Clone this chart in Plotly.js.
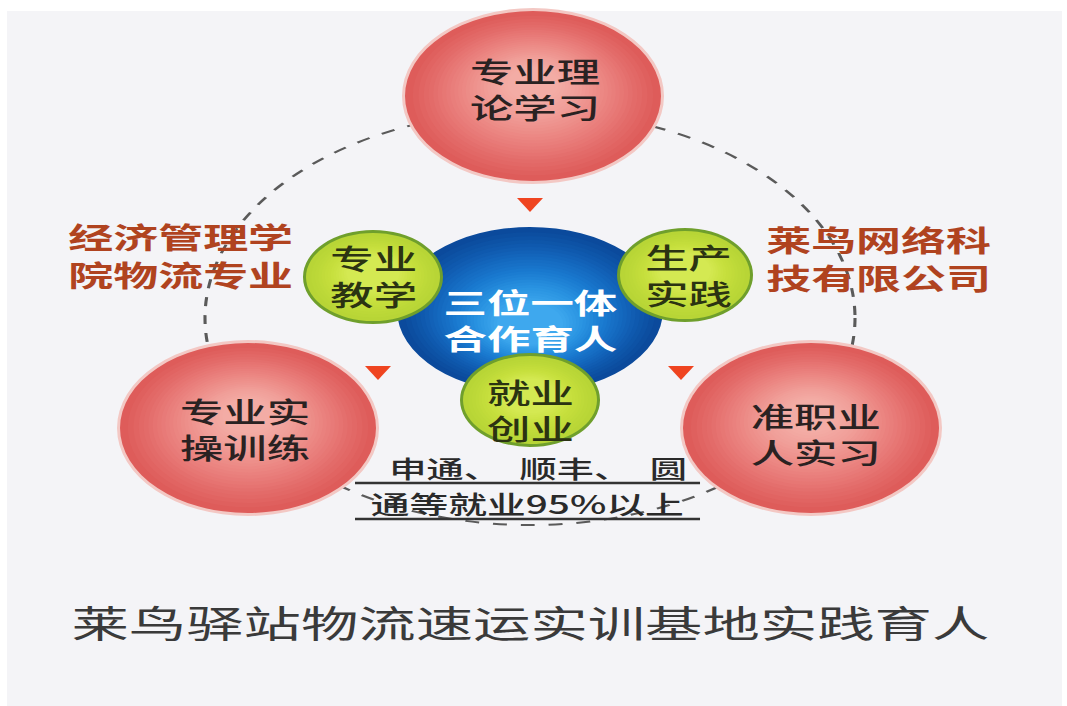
<!DOCTYPE html>
<html>
<head>
<meta charset="utf-8">
<script src="https://cdn.plot.ly/plotly-3.0.1.min.js"></script>
<style>
html,body{margin:0;padding:0;overflow:hidden;background:#ffffff;}
#wrap{width:688px;height:706px;transform:scaleX(1.5509);transform-origin:0 0;}
</style>
</head>
<body>
<div id="wrap"></div>
<script>
// ---- content (text) ----
const outerNodes = [["专业理", "论学习"], ["专业实", "操训练"], ["准职业", "人实习"]];
const innerNodes = [["专业", "教学"], ["生产", "实践"], ["就业", "创业"]];
const centerNode = ["三位一体", "合作育人"];
const partners = [["经济管理学", "院物流专业"], ["莱鸟网络科", "技有限公司"]];
const employment = ["申通、　顺丰、　圆", "通等就业95%以上"];
const caption = "莱鸟驿站物流速运实训基地实践育人";

// ---- layout geometry (pixel space of the picture) ----
const W = 1067, H = 706;
const outerPos = [{cx:533, cy:96, rx:128, ry:85, ty:89, tx:535},
                  {cx:248, cy:428, rx:128, ry:85, ty:429, tx:245},
                  {cx:811, cy:428, rx:128, ry:85, ty:434, tx:815}];
const innerPos = [{cx:373, cy:277, rx:70, ry:47, ty:276, tx:373},
                  {cx:685, cy:275, rx:68, ry:47, ty:275, tx:689},
                  {cx:530, cy:400, rx:70, ry:47, ty:410, tx:530}];
const centerPos = {cx:530, cy:310, rx:133, ry:83, ty:320, tx:530};
const partnerPos = [{tx:180, ty:255}, {tx:879, ty:258}];
const arrowPos = [[530,205],[378,373],[681,373]];

const FONT = '"Noto Sans CJK SC", "Noto Sans", sans-serif';

function hex2rgb(h){h=h.replace('#','');return [parseInt(h.substr(0,2),16),parseInt(h.substr(2,2),16),parseInt(h.substr(4,2),16)];}
function mix(a,b,t){const A=hex2rgb(a),B=hex2rgb(b);return 'rgb('+A.map((v,i)=>Math.round(v+(B[i]-v)*t)).join(',')+')';}

const shapes = [];
// background
shapes.push({type:'rect',xref:'x',yref:'y',x0:7,x1:1062,y0:11,y1:706,fillcolor:'#f4f4f7',line:{width:0},layer:'below'});
// dashed orbit
shapes.push({type:'circle',xref:'x',yref:'y',x0:205,x1:855,y0:111,y1:525,line:{color:'#5a5a5a',width:2,dash:'dash'},fillcolor:'rgba(0,0,0,0)'});

function gradEllipse(p, stops, n, kmin, dx, dy){
  for(let i=0;i<n;i++){
    const t=i/(n-1);
    const k=1-(1-kmin)*Math.pow(t,0.8);
    const seg=(stops.length-1)*t; const j=Math.min(Math.floor(seg),stops.length-2); const f=seg-j;
    const col=mix(stops[j],stops[j+1],f);
    const cx=p.cx+dx*t, cy=p.cy+dy*t;
    shapes.push({type:'circle',xref:'x',yref:'y',x0:cx-p.rx*k,x1:cx+p.rx*k,y0:cy-p.ry*k,y1:cy+p.ry*k,fillcolor:col,line:{width:0}});
  }
}
// red circles
outerPos.forEach(p=>{
  shapes.push({type:'circle',xref:'x',yref:'y',x0:p.cx-p.rx-3,x1:p.cx+p.rx+3,y0:p.cy-p.ry-3,y1:p.cy+p.ry+3,fillcolor:'#f3c8c4',line:{width:0}});
  gradEllipse(p,['#de5c5a','#e67472','#ec8a86','#f09e98','#f3aca5'],26,0.2,0,-12);
});
// blue circle
gradEllipse(centerPos,['#0b4a9c','#1262b8','#1a7ad0','#2a94e2','#3ea8ee'],26,0.25,0,14);
// green circles
innerPos.forEach(p=>{
  shapes.push({type:'circle',xref:'x',yref:'y',x0:p.cx-p.rx,x1:p.cx+p.rx,y0:p.cy-p.ry,y1:p.cy+p.ry,fillcolor:'#6f9f2c',line:{width:0}});
  gradEllipse({cx:p.cx,cy:p.cy,rx:p.rx-3,ry:p.ry-3},['#b8d536','#c6df3c','#d4e952'],14,0.4,0,-4);
});
// arrows
arrowPos.forEach(a=>{
  const w=13,h=7;
  shapes.push({type:'path',xref:'x',yref:'y',path:`M${a[0]-w},${a[1]-h} L${a[0]+w},${a[1]-h} L${a[0]},${a[1]+h} Z`,fillcolor:'#ef4420',line:{width:0}});
});
// underlines
[483,519].forEach(y=>{
  shapes.push({type:'line',xref:'x',yref:'y',x0:355,x1:700,y0:y,y1:y,line:{color:'#333333',width:2.5}});
});

const ann = [];
function txt(x,y,s,size,color,weight){
  ann.push({x:x,y:y,xref:'x',yref:'y',text:s,showarrow:false,xanchor:'center',yanchor:'middle',
    font:{family:FONT,size:size,color:color,weight:weight||'normal'}});
}
outerNodes.forEach((lines,i)=>txt(outerPos[i].tx,outerPos[i].ty,lines.join('<br>'),28,'#2a2222',500));
innerNodes.forEach((lines,i)=>txt(innerPos[i].tx,innerPos[i].ty,lines.join('<br>'),28,'#2b3312',500));
txt(centerPos.tx,centerPos.ty,centerNode.join('<br>'),28,'#ffffff','bold');
partners.forEach((lines,i)=>txt(partnerPos[i].tx,partnerPos[i].ty,lines.join('<br>'),29,'#b0431f','bold'));
txt(538,467,employment[0],24,'#2a2a2a',500);
txt(528,503,employment[1],25,'#2a2a2a',500);
txt(530,622,caption,37,'#3a3a3a','normal');

const layout = {
  width:688, height:706,
  margin:{l:0,r:0,t:0,b:0},
  paper_bgcolor:'#ffffff', plot_bgcolor:'rgba(0,0,0,0)',
  xaxis:{range:[0,W],visible:false,fixedrange:true},
  yaxis:{range:[H,0],visible:false,fixedrange:true},
  shapes:shapes, annotations:ann, showlegend:false
};
Plotly.newPlot('wrap',[],layout,{staticPlot:true,displayModeBar:false});
</script>
</body>
</html>
